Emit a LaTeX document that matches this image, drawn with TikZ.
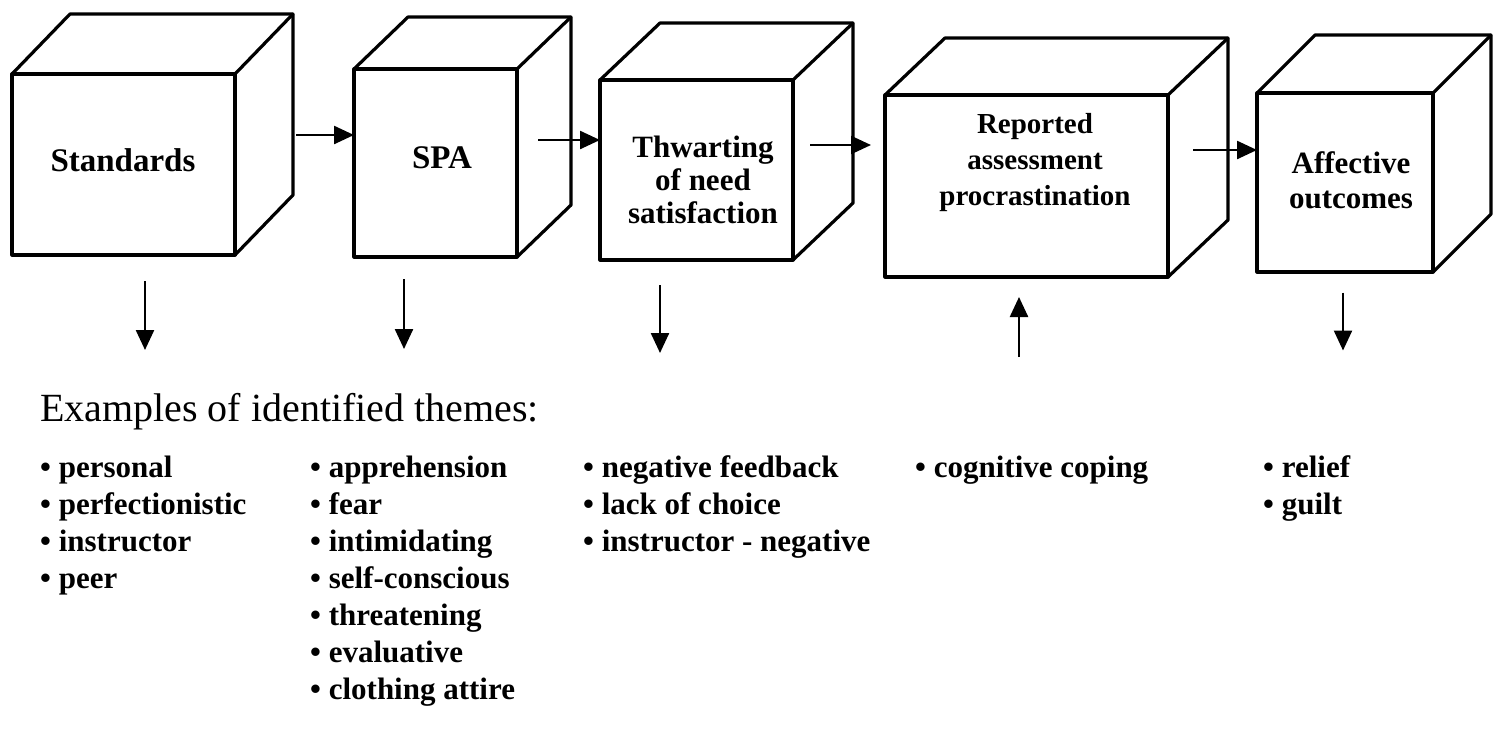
\documentclass[tikz,border=0pt]{standalone}
\usepackage{fontspec}
\setmainfont{Liberation Serif}
\usetikzlibrary{arrows.meta,calc}

% top and right faces of a cube whose front face is node #1, depth (#2,#3)
\newcommand\cubefaces[3]{%
  \draw[edge] (#1.north west) -- ++(#2,#3) -- ($(#1.north east)+(#2,#3)$)
              -- ($(#1.south east)+(#2,#3)$) -- (#1.south east);
  \draw[edge] (#1.north east) -- ++(#2,#3);
}

\begin{document}
\begin{tikzpicture}[x=1pt,y=-1pt,
  face/.style={draw, line width=3.2pt, line join=round, fill=white,
               inner sep=0pt, outer sep=0pt},
  edge/.style={line width=3.2pt, line join=round, line cap=round},
  arr/.style={line width=2.4pt, -{Triangle[length=20pt,width=18pt]}},
  lab/.style={align=center, inner sep=0pt},
  item/.style={font=\bfseries\fontsize{31}{37}\selectfont, anchor=base west,
               inner sep=0pt},
  head/.style={font=\fontsize{40}{46}\selectfont, anchor=base west, inner sep=0pt}]

\useasboundingbox (0,0) rectangle (1497,732);

% front faces
\node[face, minimum width=223pt, minimum height=181pt] (b1) at (123.5,164.5) {};
\node[face, minimum width=163pt, minimum height=188pt] (b2) at (435.5,163) {};
\node[face, minimum width=193pt, minimum height=180pt] (b3) at (696.5,170) {};
\node[face, minimum width=283pt, minimum height=182pt] (b4) at (1026.5,186) {};
\node[face, minimum width=176pt, minimum height=179pt] (b5) at (1345,182.5) {};

% depth faces
\cubefaces{b1}{58}{-60}
\cubefaces{b2}{54}{-52}
\cubefaces{b3}{60}{-57}
\cubefaces{b4}{60}{-57}
\cubefaces{b5}{58}{-58}

% box labels
\node[lab, font=\bfseries\fontsize{33}{38}\selectfont] (l1) at (123,160) {Standards};
\node[lab, font=\bfseries\fontsize{33}{38}\selectfont] (l2) at (442,158) {SPA};
\node[lab, font=\bfseries\fontsize{31}{33}\selectfont] (l3) at (703,180) {Thwarting\\of need\\satisfaction};
\node[lab, font=\bfseries\fontsize{29}{36}\selectfont] (l4) at (1035,163) {Reported\\assessment\\procrastination};
\node[lab, font=\bfseries\fontsize{31}{35}\selectfont] (l5) at (1351,180) {Affective\\outcomes};

% arrows between boxes
\coordinate (s12) at ([shift={(61,-29.5)}]b1.east);
\coordinate (s23) at ([shift={(21,-23)}]b2.east);
\coordinate (s34) at ([shift={(17,-25)}]b3.east);
\coordinate (s45) at ([shift={(25,-36)}]b4.east);
\draw[arr] (s12) -- (s12 -| b2.west);
\draw[arr] (s23) -- (s23 -| b3.west);
\draw[arr, shorten >=14pt] (s34) -- (s34 -| b4.west);
\draw[arr] (s45) -- (s45 -| b5.west);

% arrows towards the theme lists
\coordinate (d1) at ([shift={(21.5,26)}]b1.south);
\coordinate (e1) at ([shift={(0,69)}]d1);
\coordinate (d2) at ([shift={(-31.5,22)}]b2.south);
\coordinate (e2) at ([shift={(0,70)}]d2);
\coordinate (d3) at ([shift={(-36.5,25)}]b3.south);
\coordinate (e3) at ([shift={(0,68)}]d3);
\coordinate (d4) at ([shift={(-7.5,80)}]b4.south);
\coordinate (e4) at ([shift={(0,-60)}]d4);
\coordinate (d5) at ([shift={(-2,20.5)}]b5.south);
\coordinate (e5) at ([shift={(0,58)}]d5);
\foreach \k in {1,...,5} \draw[arr] (d\k) -- (e\k);

% themes
\node[head] (ex) at (40,421) {Examples of identified themes:};

\foreach \t [count=\i] in {personal,perfectionistic,instructor,peer}
  \node[item] (c1-\i) at (40,{477+37*(\i-1)}) {• \t};
\foreach \t [count=\i] in {apprehension,fear,intimidating,self-conscious,threatening,evaluative,clothing attire}
  \node[item] (c2-\i) at (310,{477+37*(\i-1)}) {• \t};
\foreach \t [count=\i] in {negative feedback,lack of choice,instructor - negative}
  \node[item] (c3-\i) at (583,{477+37*(\i-1)}) {• \t};
\node[item] (c4-1) at (915,477) {• cognitive coping};
\foreach \t [count=\i] in {relief,guilt}
  \node[item] (c5-\i) at (1263,{477+37*(\i-1)}) {• \t};

\end{tikzpicture}
\end{document}
